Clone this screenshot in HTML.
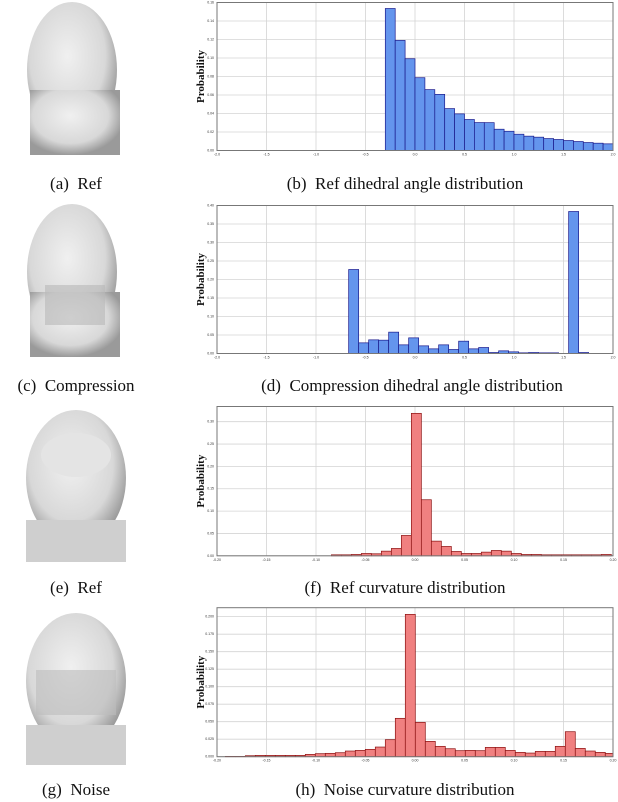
<!DOCTYPE html>
<html><head><meta charset="utf-8"><style>
body{margin:0;background:#fff;width:618px;height:802px;overflow:hidden;position:relative;font-family:"Liberation Serif",serif}
.cap{position:absolute;font-size:17px;color:#111;white-space:nowrap;transform:translateX(-50%)}
svg{position:absolute;left:0;top:0}
</style></head><body>
<svg id="s" width="618" height="802">
<defs>
<radialGradient id="fg" cx="45%" cy="40%" r="60%"><stop offset="0" stop-color="#f0f0f0"/><stop offset="0.7" stop-color="#d8d8d8"/><stop offset="1" stop-color="#9a9a9a"/></radialGradient>
</defs>
<g><ellipse cx="72" cy="70" rx="45" ry="68" fill="url(#fg)"/><rect x="30" y="90" width="90" height="65" fill="url(#fg)"/></g>
<g><ellipse cx="72" cy="272" rx="45" ry="68" fill="url(#fg)"/><rect x="30" y="292" width="90" height="65" fill="url(#fg)"/><rect x="45" y="285" width="60" height="40" fill="#b8b8b8" opacity="0.6"/></g>
<g><ellipse cx="76" cy="478" rx="50" ry="68" fill="url(#fg)"/><rect x="26" y="520" width="100" height="42" fill="#cfcfcf"/><ellipse cx="76" cy="455" rx="35" ry="22" fill="#e4e4e4"/></g>
<g><ellipse cx="76" cy="681" rx="50" ry="68" fill="url(#fg)"/><rect x="26" y="725" width="100" height="40" fill="#cfcfcf"/><rect x="36" y="670" width="80" height="45" fill="#bdbdbd" opacity="0.6"/></g>
</svg>
<div class="cap" style="left:76px;top:174px">(a)&nbsp; Ref</div>
<div class="cap" style="left:405px;top:174px">(b)&nbsp; Ref dihedral angle distribution</div>
<div class="cap" style="left:76px;top:376px">(c)&nbsp; Compression</div>
<div class="cap" style="left:412px;top:376px">(d)&nbsp; Compression dihedral angle distribution</div>
<div class="cap" style="left:76px;top:578px">(e)&nbsp; Ref</div>
<div class="cap" style="left:405px;top:578px">(f)&nbsp; Ref curvature distribution</div>
<div class="cap" style="left:76px;top:780px">(g)&nbsp; Noise</div>
<div class="cap" style="left:405px;top:780px">(h)&nbsp; Noise curvature distribution</div>
<script>
// Chart B: dihedral angle (ref)
const bStart = -0.3, bWidth = 0.1;
const bValues = [0.1535,0.1190,0.0992,0.0787,0.0658,0.0607,0.0453,0.0396,0.0335,0.0302,0.0301,0.0230,0.0208,0.0176,0.0155,0.0144,0.0129,0.0119,0.0108,0.0097,0.0086,0.0079,0.0072];
const bYTicks = ["0.00","0.02","0.04","0.06","0.08","0.10","0.12","0.14","0.16"];
const bXTicks = ["-2.0","-1.5","-1.0","-0.5","0.0","0.5","1.0","1.5","2.0"];
// Chart D: dihedral angle (compression)
const dStart = -0.67, dWidth = 0.101;
const dValues = [0.2270,0.0288,0.0369,0.0360,0.0577,0.0234,0.0423,0.0207,0.0126,0.0234,0.0108,0.0333,0.0126,0.0162,0.0027,0.0072,0.0045,0.0018,0.0027,0.0018,0.0018,0.0000,0.3838,0.0027];
const dYTicks = ["0.00","0.05","0.10","0.15","0.20","0.25","0.30","0.35","0.40"];
const dXTicks = ["-2.0","-1.5","-1.0","-0.5","0.0","0.5","1.0","1.5","2.0"];
// Chart F: curvature (ref)
const fStart = -0.0845, fWidth = 0.0101;
const fValues = [0.0022,0.0022,0.0030,0.0052,0.0045,0.0104,0.0164,0.0455,0.3187,0.1254,0.0328,0.0209,0.0097,0.0052,0.0052,0.0082,0.0119,0.0104,0.0052,0.0030,0.0030,0.0022,0.0022,0.0022,0.0022,0.0022,0.0022,0.0030];
const fYTicks = ["0.00","0.05","0.10","0.15","0.20","0.25","0.30"];
const fXTicks = ["-0.20","-0.15","-0.10","-0.05","0.00","0.05","0.10","0.15","0.20"];
// Chart H: curvature (noise)
const hStart = -0.2017, hWidth = 0.0101;
const hValues = [0.0000,0.0005,0.0005,0.0014,0.0019,0.0019,0.0019,0.0019,0.0019,0.0033,0.0043,0.0048,0.0057,0.0081,0.0090,0.0105,0.0138,0.0243,0.0548,0.2033,0.0490,0.0219,0.0148,0.0114,0.0086,0.0090,0.0086,0.0133,0.0133,0.0090,0.0062,0.0052,0.0076,0.0076,0.0148,0.0357,0.0119,0.0081,0.0062,0.0048];
const hYTicks = ["0.000","0.025","0.050","0.075","0.100","0.125","0.150","0.175","0.200"];
const hXTicks = ["-0.20","-0.15","-0.10","-0.05","0.00","0.05","0.10","0.15","0.20"];

const NS="http://www.w3.org/2000/svg";
const svg=document.getElementById('s');
function mk(tag,attrs,parent){const e=document.createElementNS(NS,tag);for(const k in attrs)e.setAttribute(k,attrs[k]);(parent||svg).appendChild(e);return e;}

function chart(name,box,xMin,xMax,yMax,yTicks,xTicks,start,width,values,fill,stroke){
  const g=mk('g',{});
  
  
  const xs=v=>box.x+(v-xMin)/(xMax-xMin)*box.w;
  const ys=v=>box.y+box.h-v/yMax*box.h;
  // grid
  xTicks.forEach((t,i)=>{
    const v=xMin+i*(xMax-xMin)/(xTicks.length-1);
    mk('line',{x1:xs(v),x2:xs(v),y1:box.y,y2:box.y+box.h,stroke:'#d4d4d4','stroke-width':0.8},g);
    const tx=mk('text',{x:xs(v),y:box.y+box.h+5,'font-size':3.5,'text-anchor':'middle',fill:'#333','font-family':'Liberation Sans, sans-serif'},g);
    tx.textContent=t;
    
    
  });
  const yStep=parseFloat(yTicks[1])-parseFloat(yTicks[0]);
  yTicks.forEach((t,i)=>{
    const v=i*yStep;
    mk('line',{x1:box.x,x2:box.x+box.w,y1:ys(v),y2:ys(v),stroke:'#d4d4d4','stroke-width':0.8},g);
    const ty=mk('text',{x:box.x-3,y:ys(v)+1,'font-size':3.5,'text-anchor':'end',fill:'#333','font-family':'Liberation Sans, sans-serif'},g);
    ty.textContent=t;
    
    
  });
  values.forEach((v,i)=>{
    const x0=start+i*width;
    let l=Math.max(xs(x0),box.x), r=Math.min(xs(x0+width),box.x+box.w);
    if(r<=l||v<=0) return;
    const b=mk('rect',{x:l,y:ys(v),width:r-l,height:ys(0)-ys(v),fill:fill,stroke:stroke,'stroke-width':0.7},g);
    
    
  });
  mk('rect',{x:box.x,y:box.y,width:box.w,height:box.h,fill:'none',stroke:'#777','stroke-width':1},g);
  const yl=mk('text',{x:0,y:0,'font-size':11,'font-weight':'bold','text-anchor':'middle',fill:'#111','font-family':'Liberation Serif, serif',transform:`translate(${box.x-13},${box.y+box.h/2}) rotate(-90)`},g);
  yl.textContent='Probability';
  
  
}
chart('chart-ref-dihedral',{x:217,y:2.5,w:396,h:148},-2,2,0.16,bYTicks,bXTicks,bStart,bWidth,bValues,'#6495ed','#1a1a8c');
chart('chart-compression-dihedral',{x:217,y:205.5,w:396,h:148},-2,2,0.40,dYTicks,dXTicks,dStart,dWidth,dValues,'#6495ed','#1a1a8c');
chart('chart-ref-curvature',{x:217,y:406.5,w:396,h:149.3},-0.2,0.2,0.334,fYTicks,fXTicks,fStart,fWidth,fValues,'#f08080','#8b1010');
chart('chart-noise-curvature',{x:217,y:607.7,w:396,h:149},-0.2,0.2,0.2128,hYTicks,hXTicks,hStart,hWidth,hValues,'#f08080','#8b1010');
</script>
</body></html>
